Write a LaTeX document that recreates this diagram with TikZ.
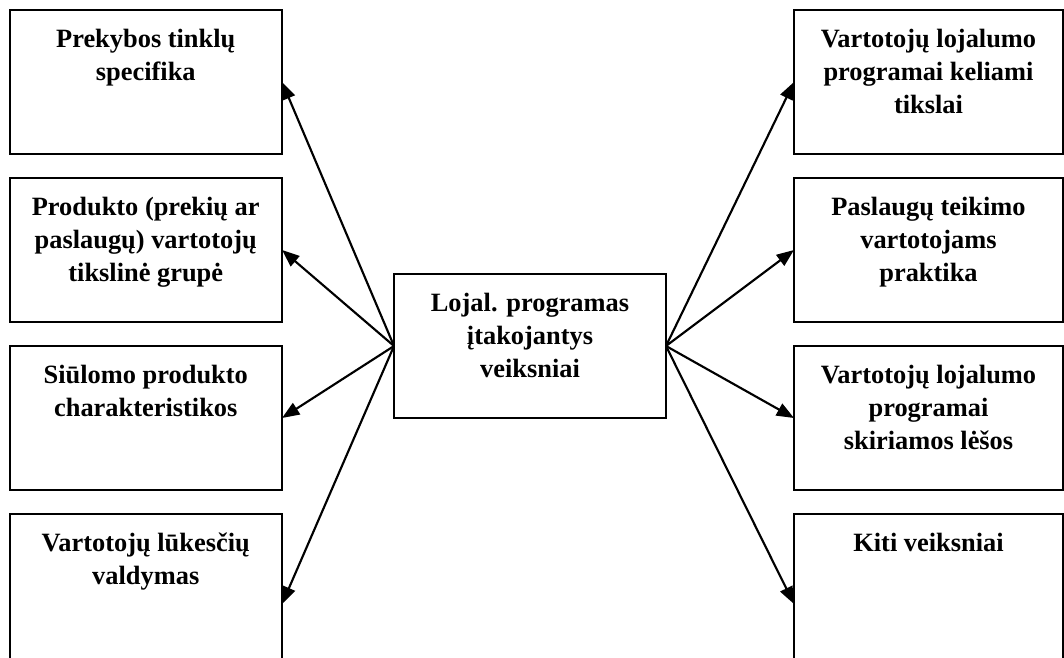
\documentclass[tikz,border=0pt]{standalone}
\usepackage{fontspec}
\setmainfont{Liberation Serif}
\usetikzlibrary{arrows.meta}
\newcommand{\bxt}[3]{\begin{minipage}[t][#2][t]{#1}\centering\fontsize{19.8pt}{24.75pt}\selectfont\bfseries\rule{0pt}{27.75pt}#3\end{minipage}}
\tikzset{
  fbox/.style={draw, line width=1.5pt, inner sep=0pt, outer sep=0pt, anchor=north west},
  arr/.style={line width=1.6pt, -{Triangle[length=13pt,width=10pt]}}
}
\begin{document}
\begin{tikzpicture}[x=0.75pt, y=-0.75pt]
\useasboundingbox (0,0) rectangle (1064,657);
\clip (0,0) rectangle (1064,657);
\fill[white] (0,0) rectangle (1064,657);
% left column
\node[fbox] (l1) at (9.5,10)  {\bxt{204.4pt}{108pt}{Prekybos tinklų\\specifika}};
\node[fbox] (l2) at (9.5,178) {\bxt{204.4pt}{108pt}{Produkto (prekių ar\\paslaugų) vartotojų\\tikslinė grupė}};
\node[fbox] (l3) at (9.5,346) {\bxt{204.4pt}{108pt}{Siūlomo produkto\\charakteristikos}};
\node[fbox] (l4) at (9.5,514) {\bxt{204.4pt}{135pt}{Vartotojų lūkesčių\\valdymas}};
% right column
\node[fbox] (r1) at (794,10)  {\bxt{201.75pt}{108pt}{Vartotojų lojalumo\\programai keliami\\tikslai}};
\node[fbox] (r2) at (794,178) {\bxt{201.75pt}{108pt}{Paslaugų teikimo\\vartotojams\\praktika}};
\node[fbox] (r3) at (794,346) {\bxt{201.75pt}{108pt}{Vartotojų lojalumo\\programai\\skiriamos lėšos}};
\node[fbox] (r4) at (794,514) {\bxt{201.75pt}{135pt}{Kiti veiksniai}};
% center
\node[fbox] (c) at (394,274) {\bxt{204pt}{108pt}{Lojal. programas\\įtakojantys\\veiksniai}};
% arrows
\draw[arr] (c.west) -- (l1.east);
\draw[arr] (c.west) -- (l2.east);
\draw[arr] (c.west) -- (l3.east);
\draw[arr] (c.west) -- (l4.east);
\draw[arr] (c.east) -- (r1.west);
\draw[arr] (c.east) -- (r2.west);
\draw[arr] (c.east) -- (r3.west);
\draw[arr] (c.east) -- (r4.west);
\end{tikzpicture}
\end{document}
